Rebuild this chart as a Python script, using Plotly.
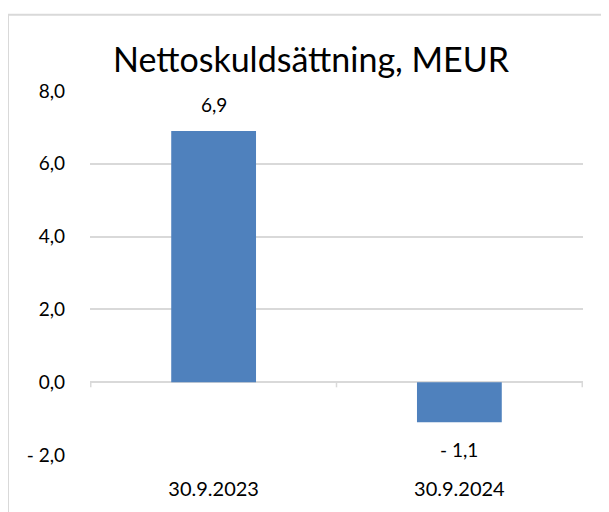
import plotly.graph_objects as go

# Data
categories = ["30.9.2023", "30.9.2024"]
values = [6.9, -1.1]
value_labels = ["6,9", "- 1,1"]
y_ticks = [-2, 0, 2, 4, 6, 8]
y_tick_labels = ["- 2,0", "0,0", "2,0", "4,0", "6,0", "8,0"]

# page body has an 8px margin, so the figure is drawn 8px in from the top-left
O = 8
W, H = 609 - O, 512 - O
L, R, T, B = 90 - O, 26, 91 - O, 53
pw, ph = W - L - R, H - T - B


def px_x(x):
    return (x - O - L) / pw


def px_y(y):
    return (H - B - (y - O)) / ph


grid = "#D9D9D9"
font = "Lato"

fig = go.Figure()
fig.add_trace(go.Bar(
    x=categories,
    y=values,
    marker=dict(color="#4F81BD", line=dict(width=0)),
    width=0.345,
    hoverinfo="skip",
))

# data labels
for c, v, t in zip(categories, values, value_labels):
    fig.add_annotation(
        x=c, y=v, text=t, showarrow=False,
        yshift=27 if v >= 0 else -27,
        font=dict(family=font, size=19, color="#000000"),
    )

# small tick marks on the zero line at category boundaries
for b in [-0.5, 0.5, 1.5]:
    fig.add_shape(type="line", xref="x", yref="y", x0=b, x1=b, y0=0, y1=-0.14,
                  line=dict(color=grid, width=1.5))

# chart border
fig.add_shape(type="rect", xref="paper", yref="paper",
              x0=px_x(8), x1=px_x(660), y0=px_y(14), y1=px_y(580),
              line=dict(color=grid, width=2), layer="below")

fig.update_layout(
    width=W, height=H,
    margin=dict(l=L, r=R, t=T, b=B),
    paper_bgcolor="white",
    plot_bgcolor="white",
    showlegend=False,
    title=dict(text="Nettoskuldsättning, MEUR", x=(311 - O) / W, xanchor="center",
               y=1 - (60 - O) / H, yanchor="middle",
               font=dict(family=font, size=34, color="#000000")),
    font=dict(family=font, size=19, color="#000000"),
    xaxis=dict(showgrid=False, showline=False, zeroline=False, ticks="",
               ticklabelstandoff=20, tickfont=dict(size=20)),
    yaxis=dict(range=[-2, 8], tickvals=y_ticks, ticktext=y_tick_labels,
               showgrid=True, gridcolor=grid, gridwidth=1.5,
               zeroline=True, zerolinecolor=grid, zerolinewidth=1.5,
               showline=False, ticks="", ticklabelstandoff=24,
               tickfont=dict(size=19)),
)

fig.write_html("out.html")
